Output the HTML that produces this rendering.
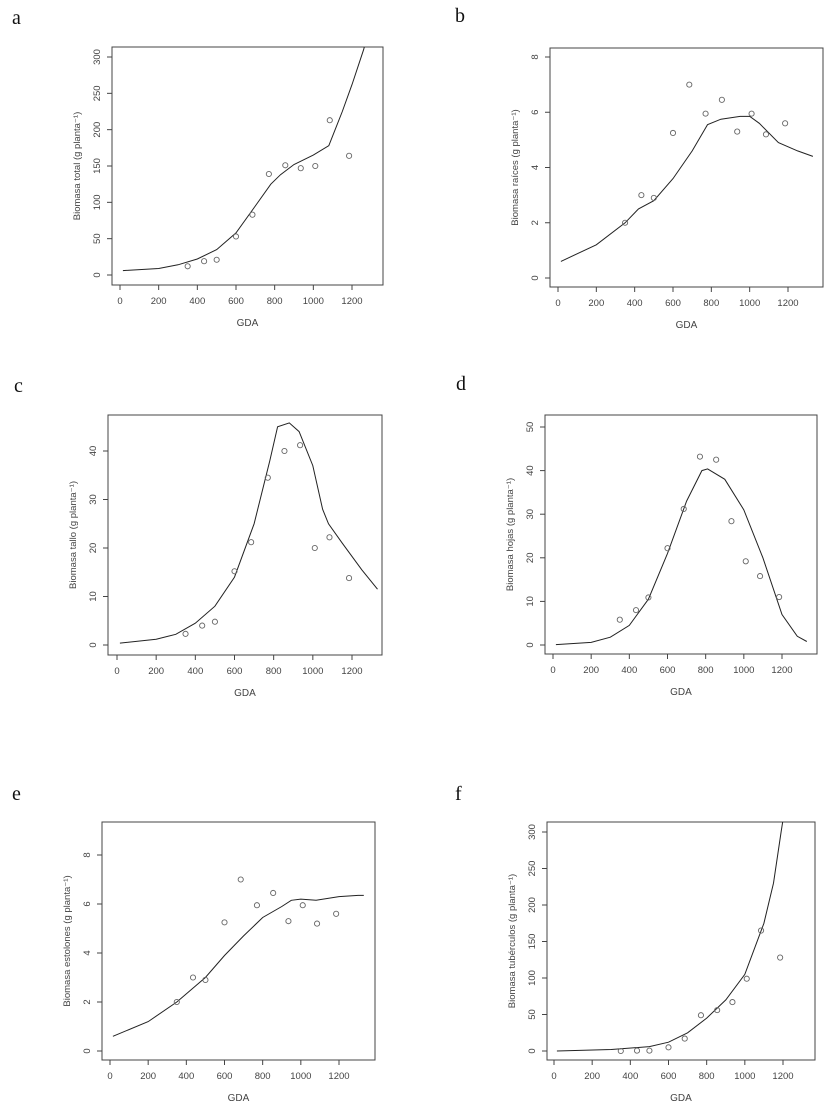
<!DOCTYPE html>
<html><head><meta charset="utf-8"><style>
body{margin:0;background:#fff;}
svg{display:block;}
text{font-family:"Liberation Sans",sans-serif;fill:#444;}
.lbl{font-family:"Liberation Serif",serif;font-size:20px;fill:#111;}
</style></head><body>
<svg id="chart" width="825" height="1107" viewBox="0 0 825 1107" xmlns="http://www.w3.org/2000/svg"></svg>
<script>
const gdaPts = [350,435,500,600,685,770,855,935,1010,1085,1185];
const aPts = [12,19,21,53,83,139,151,147,150,213,164];
const aCurveX = [15,200,300,400,500,600,700,780,830,900,1000,1080,1150,1200,1260,1290];
const aCurveY = [6,9,14,22,35,58,95,125,138,152,165,178,225,262,310,340];
const bPts = [2.0,3.0,2.9,5.25,7.0,5.95,6.45,5.3,5.95,5.2,5.6];
const bCurveX = [15,200,350,420,500,600,700,780,850,950,1000,1050,1150,1250,1330];
const bCurveY = [0.6,1.2,2.0,2.5,2.8,3.6,4.6,5.55,5.75,5.85,5.85,5.6,4.9,4.6,4.4];
const cPts = [2.3,4.0,4.8,15.2,21.2,34.5,40,41.2,20,22.2,13.8];
const cCurveX = [15,200,300,400,500,600,700,780,820,880,930,1000,1050,1080,1150,1250,1330];
const cCurveY = [0.4,1.2,2.2,4.5,8,14,25,38,45,45.8,44,37,28,25,21,15.5,11.5];
const dPts = [5.8,8.0,10.9,22.2,31.2,43.2,42.5,28.4,19.2,15.8,11];
const dCurveX = [15,200,300,400,500,600,700,780,810,900,1000,1100,1200,1280,1330];
const dCurveY = [0.1,0.6,1.8,4.5,10.5,21,33,40,40.4,38,31,20,7,2,0.8];
const ePts = [2.0,3.0,2.9,5.25,7.0,5.95,6.45,5.3,5.95,5.2,5.6];
const eCurveX = [15,200,350,500,600,700,800,900,950,1000,1080,1200,1300,1330];
const eCurveY = [0.6,1.2,2.0,3.0,3.9,4.7,5.45,5.9,6.15,6.2,6.15,6.3,6.35,6.35];
const fPts = [0,0.5,0.5,5,17,49,56,67,99,165,128];
const fCurveX = [15,300,500,600,700,800,900,1000,1100,1150,1190,1220];
const fCurveY = [0,2,6,12,25,45,70,105,175,230,300,350];
const xTicks = [0,200,400,600,800,1000,1200];
const yTicksA = [0,50,100,150,200,250,300];
const yTicksB = [0,2,4,6,8];
const yTicksC = [0,10,20,30,40];
const yTicksD = [0,10,20,30,40,50];

const svg = document.getElementById('chart');
const NS = 'http://www.w3.org/2000/svg';
function mk(tag, attrs, parent){const e=document.createElementNS(NS,tag);for(const k in attrs)e.setAttribute(k,attrs[k]);(parent||svg).appendChild(e);return e;}

const panels = [
 {id:'a',lx:12,ly:24,box:[112,47,383,285],x0:120,x1200:352,y0:275,yv:300,yvp:57,pts:aPts,cx:aCurveX,cy:aCurveY,yt:yTicksA,yl:'Biomasa total (g planta\u207B\u00B9)'},
 {id:'b',lx:455,ly:22,box:[550,48,823,287],x0:558,x1200:788,y0:278,yv:8,yvp:57,pts:bPts,cx:bCurveX,cy:bCurveY,yt:yTicksB,yl:'Biomasa raíces (g planta\u207B\u00B9)'},
 {id:'c',lx:14,ly:392,box:[108,415,382,655],x0:117,x1200:352,y0:645,yv:40,yvp:451,pts:cPts,cx:cCurveX,cy:cCurveY,yt:yTicksC,yl:'Biomasa tallo (g planta\u207B\u00B9)'},
 {id:'d',lx:456,ly:390,box:[545,415,817,654],x0:553,x1200:782,y0:645,yv:50,yvp:427,pts:dPts,cx:dCurveX,cy:dCurveY,yt:yTicksD,yl:'Biomasa hojas (g planta\u207B\u00B9)'},
 {id:'e',lx:12,ly:800,box:[102,822,375,1060],x0:110,x1200:339,y0:1051,yv:8,yvp:855,pts:ePts,cx:eCurveX,cy:eCurveY,yt:yTicksB,yl:'Biomasa estolones (g planta\u207B\u00B9)'},
 {id:'f',lx:455,ly:800,box:[547,822,815,1060],x0:554,x1200:783,y0:1051,yv:300,yvp:832,pts:fPts,cx:fCurveX,cy:fCurveY,yt:yTicksA,yl:'Biomasa tubérculos (g planta\u207B\u00B9)'}
];

panels.forEach(p=>{
  const g = mk('g',{});
  
  
  const sx = v => p.x0 + v*(p.x1200-p.x0)/1200;
  const sy = v => p.y0 - v*(p.y0-p.yvp)/p.yv;
  const [L,T,R,B] = p.box;
  const lab = mk('text',{x:p.lx,y:p.ly,class:'lbl'},g); lab.textContent=p.id;
  
  
  const box = mk('rect',{x:L,y:T,width:R-L,height:B-T,fill:'none',stroke:'#444','stroke-width':1},g);
  
  
  const clip = mk('clipPath',{id:'clip'+p.id},g);
  mk('rect',{x:L,y:T,width:R-L,height:B-T},clip);
  xTicks.forEach(t=>{
    const x=sx(t);
    mk('line',{x1:x,x2:x,y1:B,y2:B+5,stroke:'#444'},g);
    const tx=mk('text',{x:x,y:B+19,'font-size':9.5,'text-anchor':'middle'},g);tx.textContent=t;
    
    
  });
  p.yt.forEach(t=>{
    const y=sy(t);
    mk('line',{x1:L-5,x2:L,y1:y,y2:y,stroke:'#444'},g);
    const tx=mk('text',{x:0,y:0,'font-size':9.5,'text-anchor':'middle',transform:`translate(${L-12},${y}) rotate(-90)`},g);tx.textContent=t;
    
    
  });
  const xt=mk('text',{x:(L+R)/2,y:B+41,'font-size':10,'text-anchor':'middle'},g);xt.textContent='GDA';
  
  
  const yt=mk('text',{x:0,y:0,'font-size':9.5,'text-anchor':'middle',transform:`translate(${L-32},${(T+B)/2}) rotate(-90)`},g);yt.textContent=p.yl;
  
  
  const d = p.cx.map((x,i)=>(i?'L':'M')+sx(x).toFixed(1)+','+sy(p.cy[i]).toFixed(1)).join(' ');
  const path=mk('path',{d:d,fill:'none',stroke:'#222','stroke-width':1,'clip-path':`url(#clip${p.id})`},g);
  
  
  p.pts.forEach((v,i)=>{
    const c=mk('circle',{cx:sx(gdaPts[i]),cy:sy(v),r:2.6,fill:'none',stroke:'#666','stroke-width':0.9},g);
    
    
  });
});
</script>
</body></html>
